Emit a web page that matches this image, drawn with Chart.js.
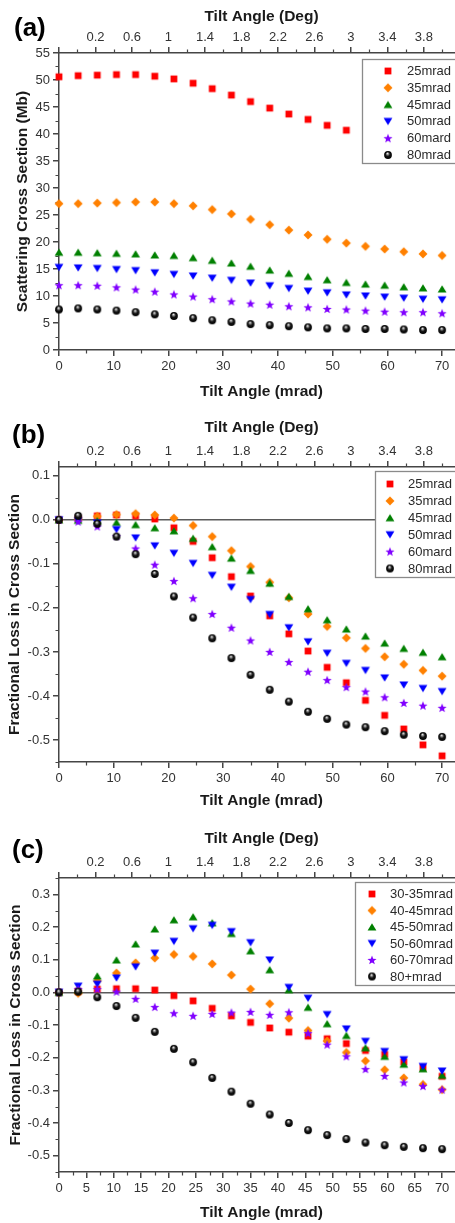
<!DOCTYPE html>
<html>
<head>
<meta charset="utf-8">
<script src="https://cdn.jsdelivr.net/npm/chart.js@4.4.1/dist/chart.umd.min.js"></script>
<style>
html,body{margin:0;padding:0;background:#fff;}
#wrap{position:relative;width:455px;height:1223px;overflow:hidden;background:#fff;}
canvas{position:absolute;left:0;}
</style>
</head>
<body>
<div id="wrap">
<canvas id="ca" width="470" height="408" style="top:0px"></canvas>
<canvas id="cb" width="470" height="405" style="top:410px"></canvas>
<canvas id="cc" width="470" height="408" style="top:815px"></canvas>
</div>
<script>
// ---------------- data ----------------
const tiltMrad = [0, 3.5, 7, 10.5, 14, 17.5, 21, 24.5, 28, 31.5, 35, 38.5, 42, 45.5, 49, 52.5, 56, 59.5, 63, 66.5, 70];

const mradTicks10 = [0, 10, 20, 30, 40, 50, 60, 70];
const mradTicks5 = [0, 5, 10, 15, 20, 25, 30, 35, 40, 45, 50, 55, 60, 65, 70];
const degTickMrad = [0, 6.667, 13.333, 20, 26.667, 33.333, 40, 46.667, 53.333, 60, 66.667];
const degTickLabels = ['', '0.2', '0.6', '1', '1.4', '1.8', '2.2', '2.6', '3', '3.4', '3.8'];
const sectionTicks = [0, 5, 10, 15, 20, 25, 30, 35, 40, 45, 50, 55];
const lossTicksB = [-0.5, -0.4, -0.3, -0.2, -0.1, 0, 0.1];
const lossTicksC = [-0.5, -0.4, -0.3, -0.2, -0.1, 0, 0.1, 0.2, 0.3];

const labelsAB = ['25mrad', '35mrad', '45mrad', '50mrad', '60mard', '80mrad'];
const labelsC = ['30-35mrad', '40-45mrad', '45-50mrad', '50-60mrad', '60-70mrad', '80+mrad'];

// (a) scattering cross section (Mb)
const sectionA25 = [50.6, 50.8, 50.9, 51.0, 51.0, 50.7, 50.2, 49.4, 48.4, 47.2, 46.0, 44.8, 43.7, 42.7, 41.6, 40.7];
const sectionA35 = [27.1, 27.1, 27.2, 27.3, 27.4, 27.4, 27.1, 26.7, 26.0, 25.2, 24.2, 23.2, 22.2, 21.3, 20.5, 19.8, 19.2, 18.7, 18.2, 17.8, 17.5];
const sectionA45 = [18.1, 18.1, 18.0, 17.9, 17.8, 17.6, 17.5, 17.1, 16.6, 16.1, 15.5, 14.8, 14.2, 13.6, 13.0, 12.5, 12.2, 12.0, 11.7, 11.5, 11.3];
const sectionA50 = [15.3, 15.2, 15.1, 14.9, 14.7, 14.3, 14.0, 13.7, 13.3, 12.9, 12.4, 11.9, 11.4, 10.9, 10.6, 10.2, 10.0, 9.8, 9.6, 9.4, 9.3];
const sectionA60 = [12.0, 12.0, 11.9, 11.6, 11.2, 10.8, 10.3, 9.9, 9.4, 9.0, 8.6, 8.4, 8.1, 7.9, 7.6, 7.5, 7.3, 7.1, 7.0, 7.0, 6.8];
const sectionA80 = [7.5, 7.7, 7.5, 7.3, 7.0, 6.6, 6.3, 5.9, 5.5, 5.2, 4.8, 4.6, 4.4, 4.2, 4.0, 4.0, 3.9, 3.9, 3.8, 3.7, 3.7];

// (b) fractional loss in cross section
const lossB25 = [0, 0.003, 0.009, 0.011, 0.009, 0.002, -0.018, -0.049, -0.086, -0.129, -0.173, -0.218, -0.259, -0.298, -0.335, -0.370, -0.410, -0.444, -0.475, -0.511, -0.536];
const lossB35 = [0, 0.003, 0.008, 0.012, 0.014, 0.011, 0.004, -0.013, -0.038, -0.070, -0.106, -0.142, -0.177, -0.214, -0.242, -0.268, -0.292, -0.311, -0.328, -0.342, -0.355];
const lossB45 = [0, -0.001, -0.002, -0.006, -0.011, -0.018, -0.025, -0.042, -0.061, -0.087, -0.115, -0.144, -0.174, -0.202, -0.227, -0.248, -0.264, -0.280, -0.292, -0.301, -0.311];
const lossB50 = [0, -0.002, -0.007, -0.022, -0.041, -0.059, -0.076, -0.099, -0.126, -0.153, -0.181, -0.215, -0.245, -0.277, -0.303, -0.326, -0.342, -0.359, -0.375, -0.383, -0.390];
const lossB60 = [0, -0.004, -0.015, -0.037, -0.065, -0.102, -0.139, -0.178, -0.214, -0.245, -0.274, -0.300, -0.323, -0.345, -0.364, -0.380, -0.390, -0.403, -0.416, -0.422, -0.427];
const lossB80 = [0, 0.009, -0.009, -0.038, -0.078, -0.123, -0.174, -0.222, -0.269, -0.314, -0.352, -0.386, -0.413, -0.436, -0.452, -0.465, -0.471, -0.480, -0.488, -0.491, -0.493];

// (c) fractional loss in cross section, angular ranges
const lossC30 = [0, 0.003, 0.010, 0.011, 0.011, 0.007, -0.010, -0.026, -0.049, -0.072, -0.092, -0.109, -0.122, -0.134, -0.142, -0.157, -0.178, -0.190, -0.213, -0.231, -0.257];
const lossC40 = [0, -0.003, 0.035, 0.059, 0.090, 0.105, 0.116, 0.110, 0.087, 0.053, 0.010, -0.035, -0.079, -0.117, -0.149, -0.184, -0.210, -0.237, -0.262, -0.282, -0.298];
const lossC45 = [0, 0.008, 0.050, 0.099, 0.148, 0.194, 0.222, 0.231, 0.213, 0.180, 0.127, 0.069, 0.008, -0.046, -0.096, -0.132, -0.170, -0.196, -0.220, -0.234, -0.254];
const lossC50 = [0, 0.019, 0.025, 0.044, 0.078, 0.120, 0.156, 0.195, 0.205, 0.186, 0.152, 0.099, 0.015, -0.018, -0.068, -0.112, -0.150, -0.181, -0.206, -0.227, -0.241];
const lossC60 = [0, 0.010, 0.010, 0.002, -0.020, -0.045, -0.064, -0.072, -0.066, -0.062, -0.060, -0.069, -0.061, -0.125, -0.160, -0.196, -0.235, -0.256, -0.276, -0.287, -0.298];
const lossC80 = [0, 0.002, -0.015, -0.042, -0.078, -0.121, -0.173, -0.214, -0.262, -0.304, -0.341, -0.374, -0.400, -0.422, -0.437, -0.449, -0.460, -0.468, -0.473, -0.477, -0.480];

// ---------------- styling ----------------
const FONT = "'Liberation Sans', Arial, Helvetica, sans-serif";
const AXIS = '#454545';

function sprite(draw) {
  const c = document.createElement('canvas');
  c.width = 12; c.height = 12;
  draw(c.getContext('2d'), 6, 6);
  return c;
}
const mSquare = sprite((g, cx, cy) => { g.fillStyle = '#ff0000'; g.fillRect(cx - 3.4, cy - 3.4, 6.8, 6.8); });
const mDiamond = sprite((g, cx, cy) => {
  g.fillStyle = '#ff8000'; g.beginPath();
  g.moveTo(cx, cy - 4.5); g.lineTo(cx + 4.5, cy); g.lineTo(cx, cy + 4.5); g.lineTo(cx - 4.5, cy); g.closePath(); g.fill();
});
const mTriUp = sprite((g, cx, cy) => {
  g.fillStyle = '#008000'; g.beginPath();
  g.moveTo(cx, cy - 3.7); g.lineTo(cx + 4.4, cy + 3.6); g.lineTo(cx - 4.4, cy + 3.6); g.closePath(); g.fill();
});
const mTriDown = sprite((g, cx, cy) => {
  g.fillStyle = '#0000ff'; g.beginPath();
  g.moveTo(cx - 4.4, cy - 3.6); g.lineTo(cx + 4.4, cy - 3.6); g.lineTo(cx, cy + 3.7); g.closePath(); g.fill();
});
const mStar = sprite((g, cx, cy) => {
  g.fillStyle = '#8000ff'; g.beginPath();
  for (let k = 0; k < 10; k++) {
    const r = k % 2 === 0 ? 4.8 : 2.0;
    const a = -Math.PI / 2 + k * Math.PI / 5;
    const px = cx + r * Math.cos(a), py = cy + 0.4 + r * Math.sin(a);
    if (k === 0) g.moveTo(px, py); else g.lineTo(px, py);
  }
  g.closePath(); g.fill();
});
const mSphere = sprite((g, cx, cy) => {
  const grd = g.createRadialGradient(cx - 0.6, cy - 1.8, 0, cx, cy, 3.9);
  grd.addColorStop(0, '#ffffff');
  grd.addColorStop(0.28, '#8a8a8a');
  grd.addColorStop(0.55, '#151515');
  grd.addColorStop(1, '#000000');
  g.fillStyle = grd; g.beginPath(); g.arc(cx, cy, 3.9, 0, Math.PI * 2); g.fill();
});
const markers = [mSquare, mDiamond, mTriUp, mTriDown, mStar, mSphere];

function minorTicksPlugin(spec) {
  return {
    id: 'minorTicks',
    beforeDatasetsDraw(chart) {
      const ctx = chart.ctx;
      ctx.save();
      ctx.strokeStyle = AXIS; ctx.lineWidth = 1.2;
      ctx.beginPath();
      spec.forEach(m => {
        const s = chart.scales[m.axis];
        for (let v = m.start; v <= s.max + 1e-9; v += m.step) {
          if (v < s.min - 1e-9) continue;
          const p = s.getPixelForValue(v);
          if (m.axis === 'y') { const y = Math.round(p) + 0.5; ctx.moveTo(s.right - 3.5, y); ctx.lineTo(s.right, y); }
          else if (m.axis === 'x') { const x = Math.round(p) + 0.5; ctx.moveTo(x, s.top); ctx.lineTo(x, s.top + 3.5); }
          else { const x = Math.round(p) + 0.5; ctx.moveTo(x, s.bottom - 3.5); ctx.lineTo(x, s.bottom); }
        }
      });
      ctx.stroke();
      ctx.restore();
    }
  };
}

function legendBoxPlugin(L) {
  return {
    id: 'legendBox',
    afterDatasetsDraw(chart) {
      const ctx = chart.ctx;
      ctx.save();
      ctx.fillStyle = '#fff';
      ctx.fillRect(L.x, L.y, L.w, L.h);
      ctx.strokeStyle = '#8a8a8a'; ctx.lineWidth = 1.3;
      ctx.strokeRect(L.x + 0.5, L.y + 0.5, L.w, L.h);
      ctx.font = '13px ' + FONT;
      ctx.textBaseline = 'middle'; ctx.textAlign = 'left';
      chart.data.datasets.forEach((ds, i) => {
        const cy = L.rowY + i * L.rowStep;
        ctx.drawImage(ds.pointStyle, L.markX - 6, cy - 6);
        ctx.fillStyle = '#2a2a2a';
        ctx.fillText(ds.label, L.textX, cy + 0.5);
      });
      ctx.restore();
    }
  };
}

function panelTagPlugin(tag) {
  return {
    id: 'panelTag',
    afterDraw(chart) {
      const ctx = chart.ctx;
      ctx.save();
      ctx.font = 'bold 26px ' + FONT;
      ctx.fillStyle = '#000';
      ctx.textBaseline = 'middle'; ctx.textAlign = 'left';
      ctx.fillText(tag.text, tag.x, tag.y);
      ctx.restore();
    }
  };
}

function buildPanel(canvasId, p) {
  const datasets = p.series.map((vals, i) => ({
    label: p.labels[i],
    data: vals.map((v, j) => ({ x: tiltMrad[j], y: v })),
    pointStyle: markers[i],
    pointRadius: 5,
    pointHoverRadius: 5,
    showLine: false,
    clip: false,
    order: -i
  }));
  const tickFont = { family: FONT, size: 13 };
  const titleFont = { family: FONT, size: 15.5, weight: 'bold' };
  return new Chart(document.getElementById(canvasId), {
    type: 'scatter',
    data: { datasets },
    options: {
      responsive: false,
      animation: false,
      devicePixelRatio: 1,
      events: [],
      layout: { padding: { left: 0, right: 5, top: 0, bottom: 0 } },
      plugins: { legend: { display: false }, tooltip: { enabled: false } },
      scales: {
        x: {
          type: 'linear', position: 'bottom', min: 0, max: 74,
          afterBuildTicks: s => { s.ticks = p.xTicks.map(v => ({ value: v })); },
          afterFit: s => { s.height = p.bottomH; },
          ticks: { font: tickFont, color: '#333', padding: 2.6, autoSkip: false, maxRotation: 0, callback: v => String(v) },
          grid: { drawOnChartArea: false, drawTicks: true, tickLength: 6, color: AXIS, lineWidth: 1.5 },
          border: { display: true, color: AXIS, width: 1.5 },
          title: { display: true, text: 'Tilt Angle (mrad)', font: titleFont, color: '#1a1a1a', padding: { top: 0, bottom: p.xTitlePad } }
        },
        x2: {
          type: 'linear', axis: 'x', position: 'top', min: 0, max: 74,
          afterBuildTicks: s => { s.ticks = degTickMrad.map(v => ({ value: v })); },
          afterFit: s => { s.height = p.topH; },
          ticks: { font: tickFont, color: '#333', padding: 2.0, autoSkip: false, maxRotation: 0, callback: (v, i) => degTickLabels[i] },
          grid: { drawOnChartArea: false, drawTicks: true, tickLength: 6, color: AXIS, lineWidth: 1.5 },
          border: { display: true, color: AXIS, width: 1.5 },
          title: { display: true, text: 'Tilt Angle (Deg)', font: titleFont, color: '#1a1a1a', padding: { top: p.x2TitlePad, bottom: 0 } }
        },
        y: {
          type: 'linear', position: 'left', min: p.yMin, max: p.yMax,
          afterBuildTicks: s => { s.ticks = p.yTicks.map(v => ({ value: v })); },
          afterFit: s => { s.width = 59; },
          ticks: { font: tickFont, color: '#333', padding: 3, autoSkip: false, callback: p.yFmt },
          grid: {
            drawOnChartArea: p.zeroLine, drawTicks: true, tickLength: 6,
            color: c => (p.zeroLine && c.tick && c.tick.value === 0) ? '#5a5a5a' : 'rgba(0,0,0,0)',
            tickColor: AXIS, lineWidth: 1.5, tickWidth: 1.5
          },
          border: { display: true, color: AXIS, width: 1.5 },
          title: { display: true, text: p.yTitle, font: titleFont, color: '#1a1a1a', padding: { top: p.yTitlePad, bottom: 0 } }
        }
      }
    },
    plugins: [minorTicksPlugin(p.minor), legendBoxPlugin(p.legend), panelTagPlugin(p.tag)]
  });
}

buildPanel('ca', {
  labels: labelsAB,
  series: [sectionA25, sectionA35, sectionA45, sectionA50, sectionA60, sectionA80],
  xTicks: mradTicks10, yTicks: sectionTicks, yMin: 0, yMax: 55,
  yFmt: v => String(v), zeroLine: false,
  yTitle: 'Scattering Cross Section (Mb)',
  topH: 53, bottomH: 58, xTitlePad: 7.0, x2TitlePad: 7.4, yTitlePad: 13.2,
  minor: [{ axis: 'x', start: 5, step: 10 }, { axis: 'y', start: 2.5, step: 5 }, { axis: 'x2', start: 3.333, step: 6.667 }],
  legend: { x: 362, y: 59, w: 120, h: 104, rowY: 71, rowStep: 16.8, markX: 388, textX: 407 },
  tag: { text: '(a)', x: 14, y: 29 }
});

buildPanel('cb', {
  labels: labelsAB,
  series: [lossB25, lossB35, lossB45, lossB50, lossB60, lossB80],
  xTicks: mradTicks10, yTicks: lossTicksB, yMin: -0.55, yMax: 0.12,
  yFmt: v => v.toFixed(1), zeroLine: true,
  yTitle: 'Fractional Loss in Cross Section',
  topH: 57, bottomH: 53, xTitlePad: 4.7, x2TitlePad: 8.7, yTitlePad: 5.7,
  minor: [{ axis: 'x', start: 5, step: 10 }, { axis: 'y', start: -0.55, step: 0.1 }, { axis: 'x2', start: 3.333, step: 6.667 }],
  legend: { x: 375, y: 61, w: 110, h: 106, rowY: 74, rowStep: 16.9, markX: 390, textX: 408 },
  tag: { text: '(b)', x: 12, y: 26 }
});

buildPanel('cc', {
  labels: labelsC,
  series: [lossC30, lossC40, lossC45, lossC50, lossC60, lossC80],
  xTicks: mradTicks5, yTicks: lossTicksC, yMin: -0.55, yMax: 0.35,
  yFmt: v => v.toFixed(1), zeroLine: true,
  yTitle: 'Fractional Loss in Cross Section',
  topH: 63, bottomH: 51, xTitlePad: 1.2, x2TitlePad: 14.7, yTitlePad: 6.7,
  minor: [{ axis: 'x', start: 2.5, step: 5 }, { axis: 'y', start: -0.55, step: 0.1 }, { axis: 'x2', start: 3.333, step: 6.667 }],
  legend: { x: 355, y: 67, w: 130, h: 103, rowY: 79, rowStep: 16.5, markX: 372, textX: 390 },
  tag: { text: '(c)', x: 12, y: 36 }
});
</script>
</body>
</html>
